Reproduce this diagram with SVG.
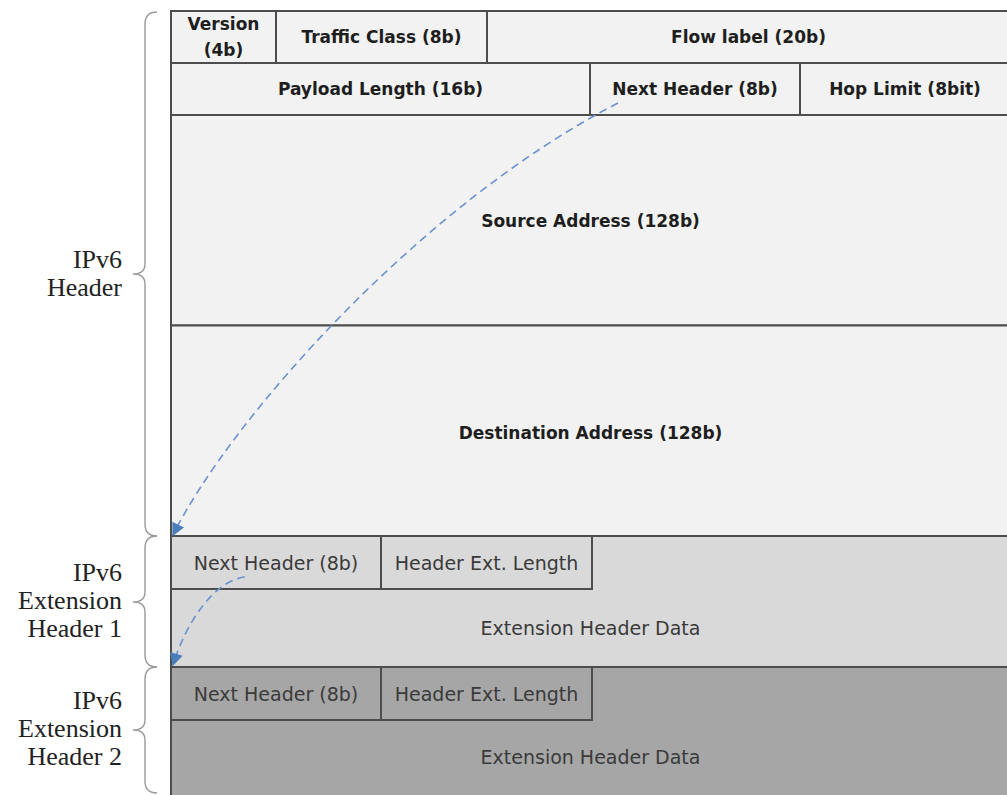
<svg xmlns="http://www.w3.org/2000/svg" width="1007" height="795" viewBox="0 0 1007 795">
<defs>
<style>
.f{stroke:#4d4d4d;stroke-width:2}
.h{fill:#f2f2f2}
.e1{fill:#d9d9d9}
.e2{fill:#a6a6a6}
.b{font-family:"DejaVu Sans",sans-serif;font-weight:bold;font-size:17px;fill:#1e1e1e;text-anchor:middle;dominant-baseline:central}
.r{font-family:"DejaVu Sans",sans-serif;font-size:19px;fill:#3a3a3a;text-anchor:middle;dominant-baseline:central}
.lab{font-family:"Liberation Serif",serif;font-size:26px;fill:#222;text-anchor:end}
.brace{fill:none;stroke:#9a9a9a;stroke-width:1.4}
.arr{fill:none;stroke:#6a93cf;stroke-width:1.6;stroke-dasharray:8 5}
</style>
<marker id="ahb" viewBox="0 0 10 10" refX="9" refY="5" markerWidth="17" markerHeight="13" markerUnits="userSpaceOnUse" orient="auto">
<path d="M0,0 L10,5 L0,10 Z" fill="#4a7ebb"/>
</marker>
</defs>
<rect width="1007" height="795" fill="#fff"/>

<g id="ipv6-header">
<g id="version"><rect class="f h" x="171" y="11" width="105" height="52"/><text class="b" x="223.5" y="24">Version</text><text class="b" x="223.5" y="50">(4b)</text></g>
<g id="traffic-class"><rect class="f h" x="276" y="11" width="211" height="52"/><text class="b" x="381.5" y="37">Traffic Class (8b)</text></g>
<g id="flow-label"><rect class="f h" x="487" y="11" width="525" height="52"/><text class="b" x="748.5" y="37">Flow label (20b)</text></g>
<g id="payload-length"><rect class="f h" x="171" y="63" width="419" height="52"/><text class="b" x="380.5" y="89">Payload Length (16b)</text></g>
<g id="next-header"><rect class="f h" x="590" y="63" width="210" height="52"/><text class="b" x="695" y="89">Next Header (8b)</text></g>
<g id="hop-limit"><rect class="f h" x="800" y="63" width="212" height="52"/><text class="b" x="905" y="89">Hop Limit (8bit)</text></g>
<g id="source-address"><rect class="f h" x="171" y="115" width="841" height="210.5"/><text class="b" x="590.5" y="221">Source Address (128b)</text></g>
<g id="destination-address"><rect class="f h" x="171" y="325.5" width="841" height="210.5"/><text class="b" x="590.5" y="433">Destination Address (128b)</text></g>
</g>

<g id="extension-header-1">
<rect class="f e1" x="171" y="536" width="841" height="131"/>
<g id="ext1-next-header"><rect class="f e1" x="171" y="536" width="210" height="53"/><text class="r" x="276" y="562.5">Next Header (8b)</text></g>
<g id="ext1-length"><rect class="f e1" x="381" y="536" width="211" height="53"/><text class="r" x="486.5" y="562.5">Header Ext. Length</text></g>
<g id="ext1-data"><text class="r" x="590.5" y="628">Extension Header Data</text></g>
</g>

<g id="extension-header-2">
<rect class="f e2" x="171" y="667" width="841" height="140"/>
<g id="ext2-next-header"><rect class="f e2" x="171" y="667" width="210" height="53"/><text class="r" x="276" y="693.5">Next Header (8b)</text></g>
<g id="ext2-length"><rect class="f e2" x="381" y="667" width="211" height="53"/><text class="r" x="486.5" y="693.5">Header Ext. Length</text></g>
<g id="ext2-data"><text class="r" x="590.5" y="757">Extension Header Data</text></g>
</g>

<g id="labels">
<g id="label-header">
<path class="brace" d="M157,12 Q145,12 145,24 L145,264 Q145,274 133,274 Q145,274 145,284 L145,524 Q145,536 157,536"/>
<text class="lab" x="122" y="268">IPv6</text>
<text class="lab" x="122" y="296">Header</text>
</g>
<g id="label-ext1">
<path class="brace" d="M157,536 Q145,536 145,548 L145,592 Q145,602 133,602 Q145,602 145,612 L145,655 Q145,667 157,667"/>
<text class="lab" x="122" y="581">IPv6</text>
<text class="lab" x="122" y="609">Extension</text>
<text class="lab" x="122" y="637">Header 1</text>
</g>
<g id="label-ext2">
<path class="brace" d="M157,667 Q145,667 145,679 L145,720 Q145,730 133,730 Q145,730 145,740 L145,781 Q145,793 157,793"/>
<text class="lab" x="122" y="709">IPv6</text>
<text class="lab" x="122" y="737">Extension</text>
<text class="lab" x="122" y="765">Header 2</text>
</g>
</g>

<g id="connectors">
<path class="arr" marker-end="url(#ahb)" d="M618,103 C420,205 230,420 173,535"/>
<path class="arr" marker-end="url(#ahb)" d="M245,577 C215,580 186,622 173,665"/>
</g>
</svg>
